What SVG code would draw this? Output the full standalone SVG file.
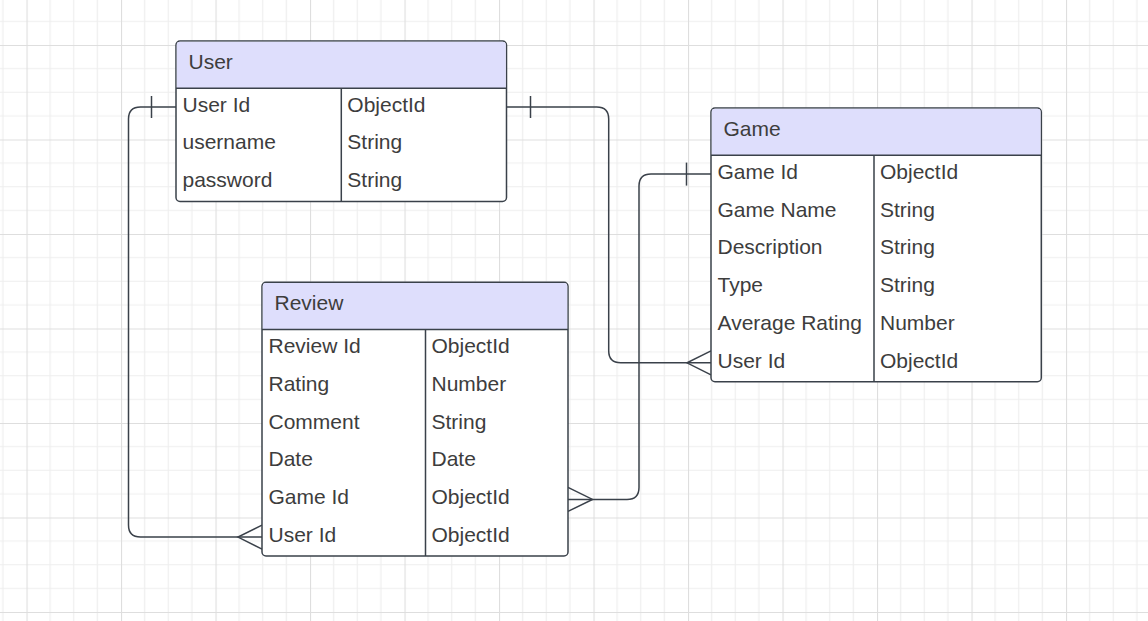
<svg xmlns="http://www.w3.org/2000/svg" width="1148" height="621" viewBox="0 0 1148 621">
<style>
.box{fill:#ffffff;stroke:#3a414a;stroke-width:1.5}
.hdr{fill:#dedefc}
.ln{stroke:#3a414a;stroke-width:1.5;fill:none}
.t{font-family:"Liberation Sans",Arial,sans-serif;font-size:21px;fill:#3d3d3d}
.con{stroke:#3a414a;stroke-width:1.5;fill:none}
</style>
<defs>
<pattern id="grid" patternUnits="userSpaceOnUse" x="26.5" y="45" width="94.5" height="94.5">
<path d="M23.625 0V94.5M47.25 0V94.5M70.875 0V94.5M0 23.625H94.5M0 47.25H94.5M0 70.875H94.5" stroke="#eeeeee" stroke-width="1.2" fill="none"/>
<path d="M0.5 0V94.5M0 0.5H94.5" stroke="#dedede" stroke-width="1.2" fill="none"/>
</pattern>
</defs>
<rect width="1148" height="621" fill="#ffffff"/>
<rect width="1148" height="621" fill="url(#grid)"/>

<g id="connectors">
<path class="con" d="M176 107.1H140.5Q128.5 107.1 128.5 119.1V525.1Q128.5 537.1 140.5 537.1H262"/>
<path class="con" d="M151.5 96V118"/>
<path class="con" d="M262 525.1L238 537.1L262 549.1"/>
<path class="con" d="M506.5 107.1H596.7Q608.7 107.1 608.7 119.1V350.8Q608.7 362.8 620.7 362.8H711"/>
<path class="con" d="M530.5 96V118"/>
<path class="con" d="M711 350.8L687 362.8L711 374.8"/>
<path class="con" d="M568 499.4H627Q639 499.4 639 487.4V186.1Q639 174.1 651 174.1H711"/>
<path class="con" d="M686.5 162.6V185.6"/>
<path class="con" d="M568 487.4L592.5 499.4L568 511.4"/>
</g>

<g id="user">
<rect class="box" x="176" y="41" width="330.5" height="160.5" rx="4"/>
<path class="hdr" d="M180 41.75H502.5Q505.75 41.75 505.75 45V88.2H176.75V45Q176.75 41.75 180 41.75Z"/>
<path class="ln" d="M176 88.2H506.5M341.3 88.2V201.5"/>
<text class="t" x="188.5" y="69">User</text>
<text class="t" x="182.5" y="111.7">User Id</text>
<text class="t" x="347.3" y="111.7">ObjectId</text>
<text class="t" x="182.5" y="149.4">username</text>
<text class="t" x="347.3" y="149.4">String</text>
<text class="t" x="182.5" y="187.2">password</text>
<text class="t" x="347.3" y="187.2">String</text>
</g>

<g id="game">
<rect class="box" x="711" y="108" width="330.3" height="273.7" rx="4"/>
<path class="hdr" d="M715 108.75H1037.3Q1040.55 108.75 1040.55 112V155.2H711.75V112Q711.75 108.75 715 108.75Z"/>
<path class="ln" d="M711 155.2H1041.3M874 155.2V381.7"/>
<text class="t" x="723.5" y="136">Game</text>
<text class="t" x="717.5" y="178.7">Game Id</text>
<text class="t" x="880" y="178.7">ObjectId</text>
<text class="t" x="717.5" y="216.5">Game Name</text>
<text class="t" x="880" y="216.5">String</text>
<text class="t" x="717.5" y="254.2">Description</text>
<text class="t" x="880" y="254.2">String</text>
<text class="t" x="717.5" y="292">Type</text>
<text class="t" x="880" y="292">String</text>
<text class="t" x="717.5" y="329.7">Average Rating</text>
<text class="t" x="880" y="329.7">Number</text>
<text class="t" x="717.5" y="367.5">User Id</text>
<text class="t" x="880" y="367.5">ObjectId</text>
</g>

<g id="review">
<rect class="box" x="262" y="282.3" width="306" height="273.7" rx="4"/>
<path class="hdr" d="M266 283.05H564Q567.25 283.05 567.25 286.3V329.5H262.75V286.3Q262.75 283.05 266 283.05Z"/>
<path class="ln" d="M262 329.5H568M425.5 329.5V556"/>
<text class="t" x="274.5" y="310.3">Review</text>
<text class="t" x="268.5" y="353">Review Id</text>
<text class="t" x="431.5" y="353">ObjectId</text>
<text class="t" x="268.5" y="390.8">Rating</text>
<text class="t" x="431.5" y="390.8">Number</text>
<text class="t" x="268.5" y="428.5">Comment</text>
<text class="t" x="431.5" y="428.5">String</text>
<text class="t" x="268.5" y="466.3">Date</text>
<text class="t" x="431.5" y="466.3">Date</text>
<text class="t" x="268.5" y="504">Game Id</text>
<text class="t" x="431.5" y="504">ObjectId</text>
<text class="t" x="268.5" y="541.8">User Id</text>
<text class="t" x="431.5" y="541.8">ObjectId</text>
</g>
</svg>
